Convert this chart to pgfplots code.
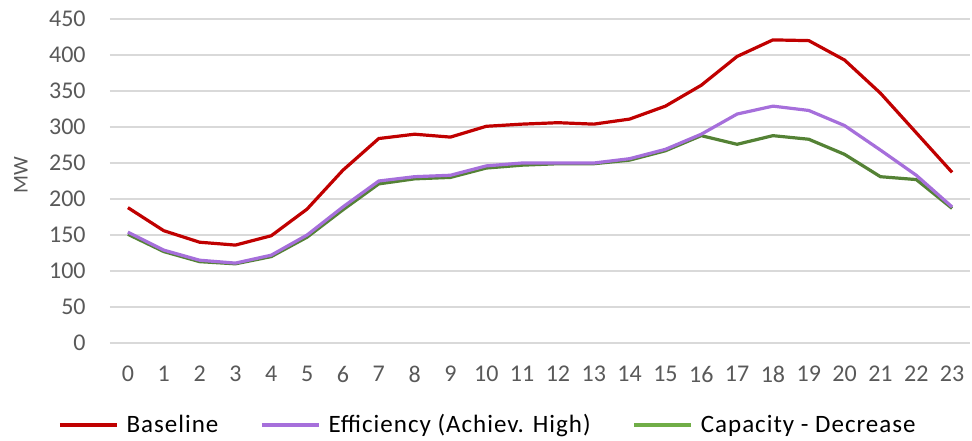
\documentclass[border=0pt]{standalone}
\usepackage{fontspec}
\setmainfont{Carlito}
\newfontfamily\legendfont{Carlito}[LetterSpace=4]
\usepackage{pgfplots}
\pgfplotsset{compat=1.18}
\definecolor{baseRed}{HTML}{C00000}
\definecolor{effPurple}{HTML}{A66FDB}
\definecolor{capGreen}{HTML}{548235}
\definecolor{capGreenKey}{HTML}{70AD47}
\definecolor{gridGray}{HTML}{D9D9D9}
\definecolor{labelGray}{HTML}{595959}
\begin{document}
\begin{tikzpicture}
\path[use as bounding box] (-55pt,-48.5pt) rectangle (431pt,171.5pt);
\begin{axis}[
  scale only axis,
  width=430pt, height=162pt,
  xmin=-0.5, xmax=23.5,
  ymin=0, ymax=450,
  xtick={0,1,...,23},
  ytick={0,50,...,450},
  ymajorgrids,
  grid style={gridGray, line width=0.9pt},
  axis line style={draw=none},
  major tick length=0pt,
  /pgf/number format/assume math mode=true,
  tick label style={font=\fontsize{12}{14}\selectfont, text=labelGray, inner sep=0pt},
  yticklabel style={xshift=-12pt},
  xticklabel style={yshift=-11.5pt},
  ylabel={MW},
  ylabel style={at={(axis description cs:-0.1035,0.517)}, anchor=center, rotate=0,
    font=\fontsize{10.5}{12}\selectfont, text=labelGray, inner sep=0pt},
  legend columns=3,
  legend style={draw=none, fill=none, at={(axis description cs:0.4395,-0.253)}, anchor=center,
    font=\legendfont\fontsize{12.5}{15}\selectfont, inner sep=0pt,
    nodes={inner sep=1pt},
    /tikz/every odd column/.append style={column sep=3pt},
    /tikz/every even column/.append style={column sep=20pt}},
  legend cell align=left,
]
% hourly demand, MW
\addplot[baseRed, line width=1.6pt, forget plot] coordinates {
 (0,188) (1,156) (2,140) (3,136) (4,149) (5,186) (6,240) (7,284)
 (8,290) (9,286) (10,301) (11,304) (12,306) (13,304) (14,311) (15,329)
 (16,358) (17,398) (18,421) (19,420) (20,393) (21,347) (22,292) (23,237)};
\addplot[capGreen, line width=1.6pt, forget plot] coordinates {
 (0,151) (1,127) (2,113) (3,110) (4,120) (5,147) (6,185) (7,221)
 (8,228) (9,230) (10,243) (11,247) (12,249) (13,249) (14,254) (15,267)
 (16,288) (17,276) (18,288) (19,283) (20,262) (21,231) (22,227) (23,187)};
\addplot[effPurple, line width=1.6pt, forget plot] coordinates {
 (0,154) (1,129) (2,115) (3,111) (4,122) (5,150) (6,189) (7,225)
 (8,231) (9,233) (10,246) (11,250) (12,250) (13,250) (14,256) (15,269)
 (16,290) (17,318) (18,329) (19,323) (20,302) (21,268) (22,233) (23,189)};
\addlegendimage{legend image code/.code={\draw[baseRed, line width=1.6pt] (0pt,0pt) -- (28.5pt,0pt);}}
\addlegendentry{Baseline}
\addlegendimage{legend image code/.code={\draw[effPurple, line width=1.6pt] (0pt,0pt) -- (28.5pt,0pt);}}
\addlegendentry{Efficiency (Achiev. High)}
\addlegendimage{legend image code/.code={\draw[capGreenKey, line width=1.6pt] (0pt,0pt) -- (28.5pt,0pt);}}
\addlegendentry{Capacity - Decrease}
\end{axis}
\end{tikzpicture}
\end{document}
